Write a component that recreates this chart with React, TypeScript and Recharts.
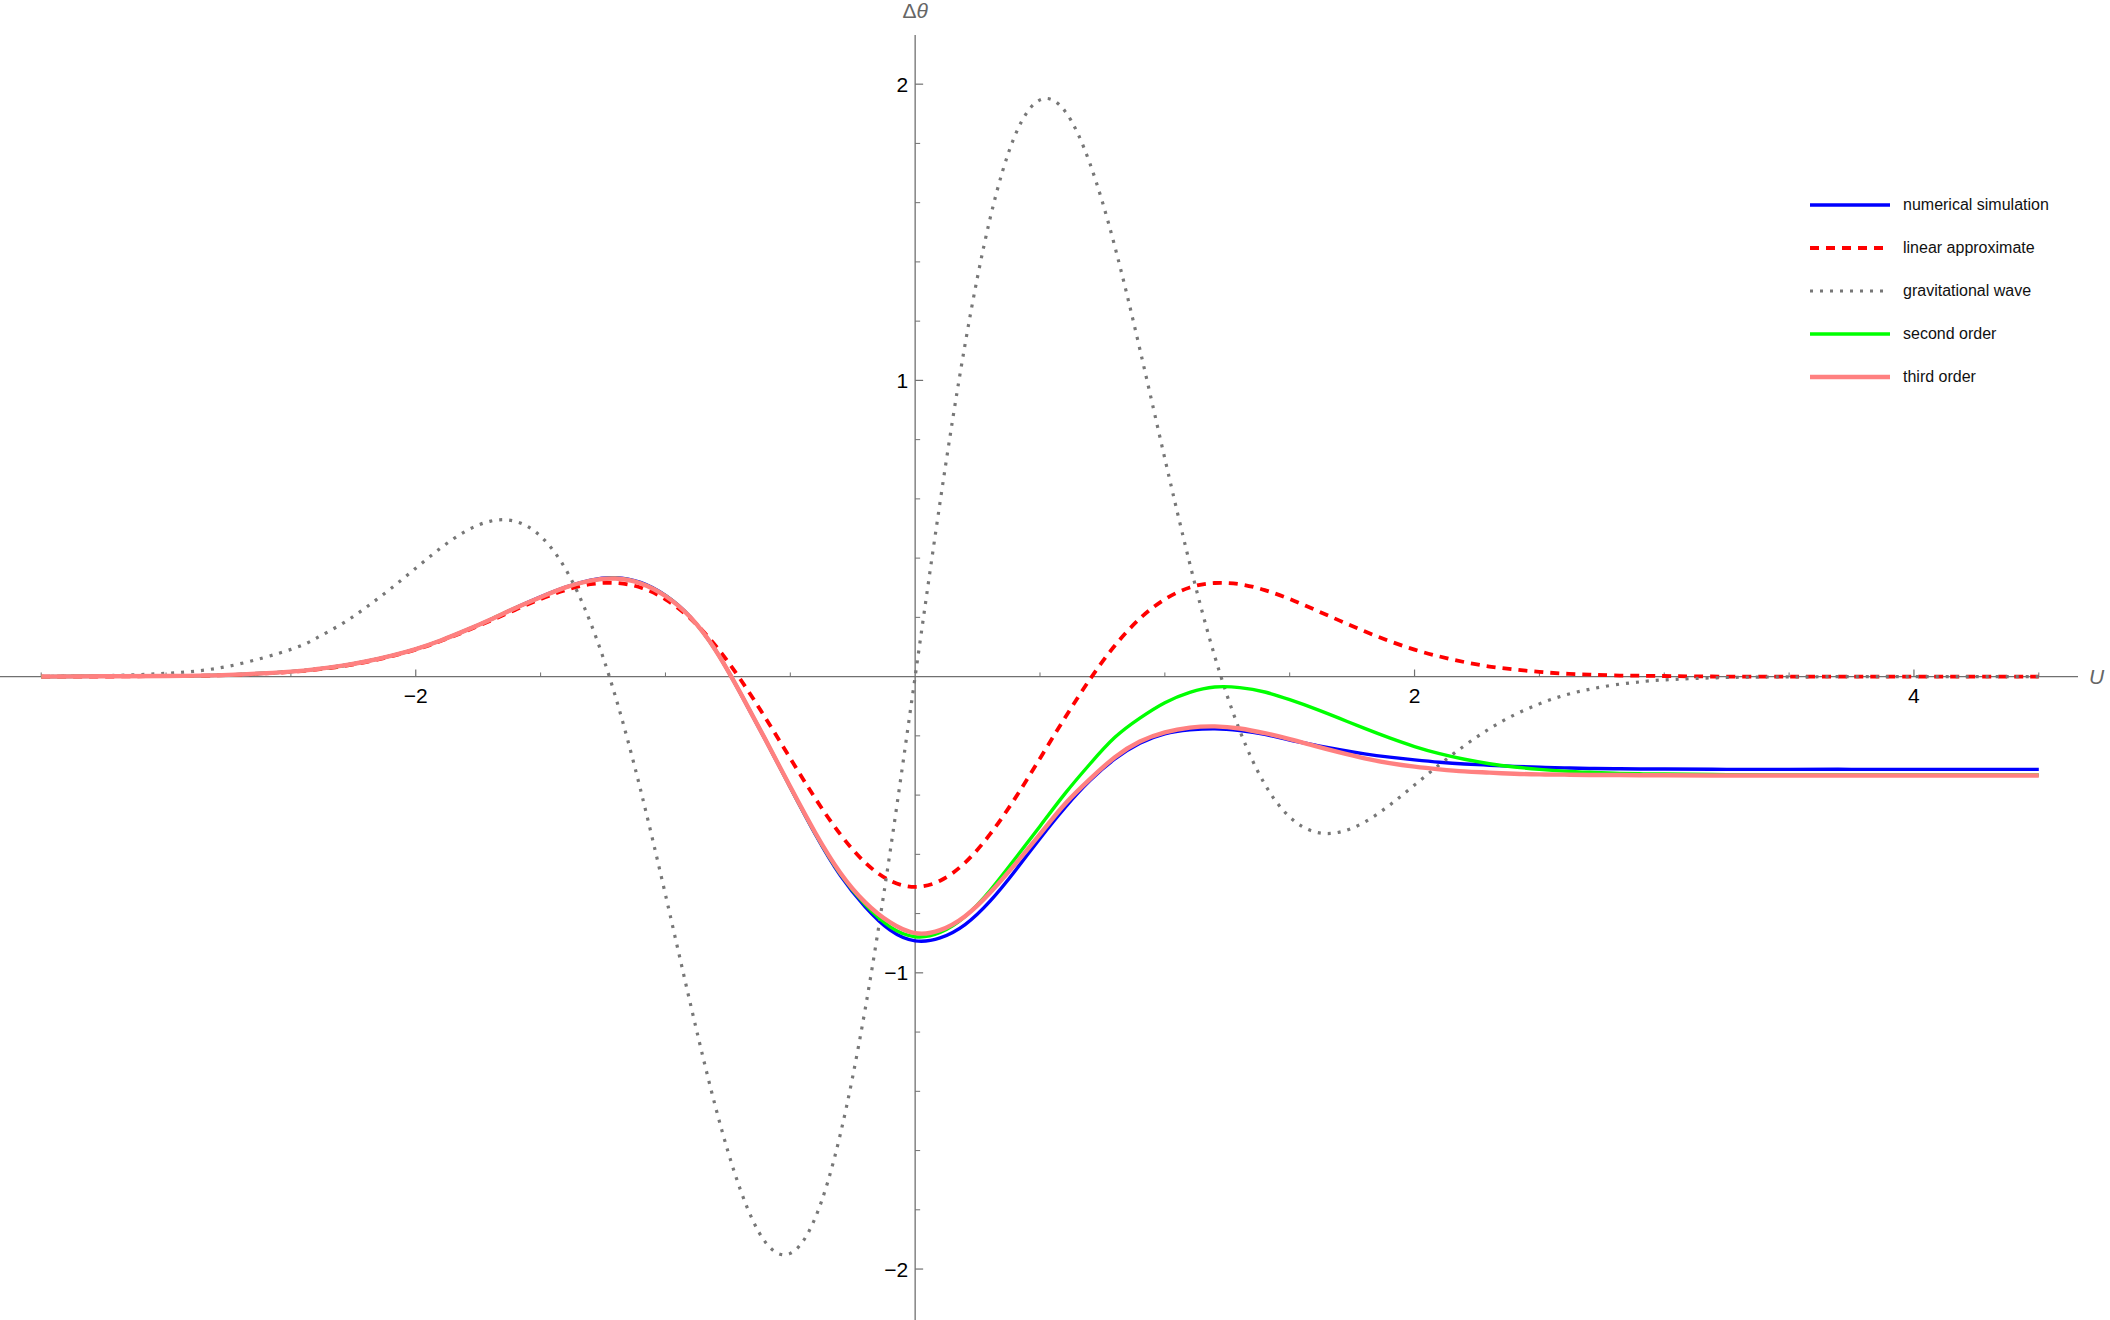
import { LineChart, Line, XAxis, YAxis, ReferenceLine, ReferenceDot, Legend } from "recharts";

const FONT = '"Liberation Sans", Arial, sans-serif';

// U values (shared grid for all curves)
const uValues = [
  -3.5, -3.25, -3, -2.75, -2.5, -2.4, -2.3, -2.2, -2.1, -2, -1.9, -1.8, -1.7, -1.6, -1.5, -1.4, -1.3, -1.2, -1.1, -1,
  -0.9, -0.8, -0.7, -0.6, -0.5, -0.4, -0.3, -0.2, -0.1, 0, 0.1, 0.2, 0.3, 0.4, 0.5, 0.6, 0.7, 0.8, 0.9, 1,
  1.1, 1.2, 1.3, 1.4, 1.5, 1.6, 1.7, 1.8, 1.9, 2, 2.1, 2.2, 2.3, 2.4, 2.5, 2.6, 2.7, 2.8, 2.9, 3,
  3.25, 3.5, 3.75, 4, 4.25, 4.5,
];

const numericalSimulation = [
  0, 0.001, 0.002, 0.006, 0.017, 0.025, 0.036, 0.051, 0.07, 0.093, 0.122, 0.156, 0.193, 0.232, 0.269, 0.302, 0.326, 0.334, 0.318, 0.274,
  0.201, 0.09, -0.056, -0.213, -0.374, -0.532, -0.671, -0.777, -0.856, -0.892, -0.882, -0.837, -0.758, -0.656, -0.546, -0.442, -0.351, -0.278, -0.225, -0.193,
  -0.18, -0.176, -0.182, -0.195, -0.214, -0.231, -0.247, -0.261, -0.272, -0.281, -0.289, -0.295, -0.299, -0.303, -0.306, -0.308, -0.31, -0.311, -0.312, -0.312,
  -0.313, -0.313, -0.313, -0.313, -0.313, -0.313,
];

const linearApproximate = [
  0, 0, 0.002, 0.005, 0.016, 0.024, 0.034, 0.049, 0.068, 0.091, 0.12, 0.153, 0.189, 0.226, 0.262, 0.292, 0.312, 0.316, 0.301, 0.261,
  0.196, 0.105, -0.009, -0.139, -0.276, -0.411, -0.532, -0.628, -0.689, -0.71, -0.689, -0.628, -0.532, -0.411, -0.276, -0.139, -0.009, 0.105, 0.196, 0.261,
  0.301, 0.316, 0.312, 0.292, 0.262, 0.226, 0.189, 0.153, 0.12, 0.091, 0.068, 0.049, 0.034, 0.024, 0.016, 0.01, 0.007, 0.004, 0.003, 0.002,
  0, 0, 0, 0, 0, 0,
];

const gravitationalWave = [
  0.001, 0.003, 0.011, 0.035, 0.092, 0.129, 0.176, 0.233, 0.297, 0.366, 0.434, 0.491, 0.525, 0.524, 0.474, 0.363, 0.182, -0.068, -0.381, -0.736,
  -1.105, -1.451, -1.732, -1.909, -1.947, -1.827, -1.546, -1.122, -0.59, 0, 0.59, 1.122, 1.546, 1.827, 1.947, 1.909, 1.732, 1.451, 1.105, 0.736,
  0.381, 0.068, -0.182, -0.363, -0.474, -0.524, -0.525, -0.491, -0.434, -0.366, -0.297, -0.233, -0.176, -0.129, -0.092, -0.063, -0.043, -0.028, -0.018, -0.011,
  -0.003, -0.001, 0, 0, 0, 0,
];

const secondOrder = [
  0, 0.001, 0.002, 0.006, 0.017, 0.025, 0.036, 0.051, 0.07, 0.093, 0.122, 0.156, 0.193, 0.232, 0.268, 0.301, 0.324, 0.332, 0.316, 0.273,
  0.2, 0.09, -0.055, -0.212, -0.373, -0.529, -0.666, -0.77, -0.845, -0.878, -0.864, -0.81, -0.722, -0.615, -0.505, -0.395, -0.295, -0.205, -0.14, -0.088,
  -0.053, -0.035, -0.037, -0.052, -0.078, -0.108, -0.141, -0.175, -0.207, -0.236, -0.26, -0.279, -0.294, -0.305, -0.313, -0.319, -0.323, -0.326, -0.328, -0.329,
  -0.331, -0.332, -0.332, -0.332, -0.332, -0.332,
];

const thirdOrder = [
  0, 0.001, 0.002, 0.006, 0.017, 0.025, 0.036, 0.051, 0.07, 0.093, 0.122, 0.156, 0.193, 0.232, 0.268, 0.301, 0.324, 0.331, 0.315, 0.272,
  0.2, 0.09, -0.055, -0.212, -0.372, -0.527, -0.662, -0.762, -0.83, -0.866, -0.856, -0.809, -0.73, -0.634, -0.532, -0.43, -0.346, -0.272, -0.219, -0.188,
  -0.172, -0.168, -0.175, -0.191, -0.211, -0.234, -0.256, -0.276, -0.292, -0.304, -0.313, -0.32, -0.324, -0.328, -0.33, -0.331, -0.332, -0.332, -0.333, -0.333,
  -0.334, -0.334, -0.334, -0.334, -0.334, -0.334,
];

const xTicksMajor = [-2, 2, 4];
const xTicksMinor = [-3.5, -3, -2.5, -1.5, -1, -0.5, 0.5, 1, 1.5, 2.5, 3, 3.5, 4.5];
const yTicksMajor = [-2, -1, 1, 2];
const yTicksMinor = [-1.8, -1.6, -1.4, -1.2, -0.8, -0.6, -0.4, -0.2, 0.2, 0.4, 0.6, 0.8, 1.2, 1.4, 1.6, 1.8];

const X_DOMAIN: [number, number] = [-3.665, 4.657];
const Y_DOMAIN: [number, number] = [-2.172, 2.166];

const series = [
  { key: "numerical", name: "numerical simulation", color: "#0000ff", width: 3.4, dash: undefined as string | undefined, values: numericalSimulation },
  { key: "linear", name: "linear approximate", color: "#ff0000", width: 3.8, dash: "9 7", values: linearApproximate },
  { key: "gw", name: "gravitational wave", color: "#777777", width: 3.2, dash: "3 7", values: gravitationalWave },
  { key: "second", name: "second order", color: "#00ff00", width: 3.4, dash: undefined, values: secondOrder },
  { key: "third", name: "third order", color: "#ff8080", width: 4.4, dash: undefined, values: thirdOrder },
];

const data = uValues.map((u, i) => {
  const row: Record<string, number> = { u };
  series.forEach((s) => (row[s.key] = s.values[i]));
  return row;
});

const fmt = (v: number) => (v < 0 ? "\u2212" + Math.abs(v) : String(v));

const AXIS = "#707070";

function LegendBox() {
  return (
    <div style={{ fontFamily: FONT, fontSize: 16, color: "#111" }}>
      {series.map((s) => (
        <div key={s.key} style={{ display: "flex", alignItems: "center", height: 43.2 }}>
          <svg width={80} height={10} style={{ marginRight: 13, display: "block" }}>
            <line x1={0} y1={5} x2={80} y2={5} stroke={s.color} strokeWidth={s.width} strokeDasharray={s.dash} />
          </svg>
          <span>{s.name}</span>
        </div>
      ))}
    </div>
  );
}

// axis label with upright Delta and italic theta
const DeltaTheta = (p: any) => {
  const vb = p.viewBox || { x: 0, y: 0, width: 0 };
  return (
    <text x={vb.x + (vb.width || 0) / 2} y={vb.y - 17} textAnchor="middle" fill="#666" fontSize={21} fontFamily={FONT}>
      <tspan>{"\u0394"}</tspan>
      <tspan fontStyle="italic">{"\u03b8"}</tspan>
    </text>
  );
};

export default function App() {
  return (
    <div style={{ width: 2110, height: 1320, background: "#fff" }}>
      <style>{"body{margin:0;overflow:hidden;background:#fff}"}</style>
      <LineChart width={2110} height={1320} data={data} margin={{ top: 35, right: 32, left: 0, bottom: 0 }}>
        <XAxis dataKey="u" type="number" domain={X_DOMAIN} allowDataOverflow hide />
        <YAxis type="number" domain={Y_DOMAIN} allowDataOverflow hide />

        <ReferenceLine y={0} stroke={AXIS} strokeWidth={1.3} />
        <ReferenceLine x={0} stroke={AXIS} strokeWidth={1.3} />

        {xTicksMajor.map((t) => (
          <ReferenceLine key={"xM" + t} segment={[{ x: t, y: 0 }, { x: t, y: 0.024 }]} stroke={AXIS} strokeWidth={1.2} />
        ))}
        {xTicksMinor.map((t) => (
          <ReferenceLine key={"xm" + t} segment={[{ x: t, y: 0 }, { x: t, y: 0.014 }]} stroke={AXIS} strokeWidth={1} />
        ))}
        {yTicksMajor.map((t) => (
          <ReferenceLine key={"yM" + t} segment={[{ x: 0, y: t }, { x: 0.032, y: t }]} stroke={AXIS} strokeWidth={1.2} />
        ))}
        {yTicksMinor.map((t) => (
          <ReferenceLine key={"ym" + t} segment={[{ x: 0, y: t }, { x: 0.02, y: t }]} stroke={AXIS} strokeWidth={1} />
        ))}

        {xTicksMajor.map((t) => (
          <ReferenceDot
            key={"xl" + t}
            x={t}
            y={0}
            r={0}
            fill="none"
            stroke="none"
            ifOverflow="visible"
            label={{ value: fmt(t), position: "bottom", offset: 11, fill: "#000", fontSize: 21, fontFamily: FONT }}
          />
        ))}
        {yTicksMajor.map((t) => (
          <ReferenceDot
            key={"yl" + t}
            x={0}
            y={t}
            r={0}
            fill="none"
            stroke="none"
            ifOverflow="visible"
            label={{ value: fmt(t), position: "left", offset: 7, fill: "#000", fontSize: 21, fontFamily: FONT }}
          />
        ))}
        <ReferenceDot
          x={0}
          y={Y_DOMAIN[1]}
          r={0}
          fill="none"
          stroke="none"
          ifOverflow="visible"
          label={{ position: "top", content: DeltaTheta }}
        />
        <ReferenceDot
          x={X_DOMAIN[1]}
          y={0}
          r={0}
          fill="none"
          stroke="none"
          ifOverflow="visible"
          label={{ value: "U", position: "right", offset: 11, fill: "#666", fontSize: 21, fontFamily: FONT, fontStyle: "italic" }}
        />

        {series.map((s) => (
          <Line
            key={s.key}
            dataKey={s.key}
            name={s.name}
            type="natural"
            stroke={s.color}
            strokeWidth={s.width}
            strokeDasharray={s.dash}
            dot={false}
            activeDot={false}
            isAnimationActive={false}
          />
        ))}

        <Legend
          layout="vertical"
          align="center"
          verticalAlign="middle"
          content={() => <LegendBox />}
          wrapperStyle={{ left: 1810, top: 183, width: 300 }}
        />
      </LineChart>
    </div>
  );
}
